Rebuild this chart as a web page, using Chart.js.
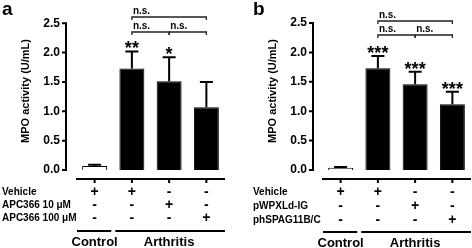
<!DOCTYPE html>
<html>
<head>
<meta charset="utf-8">
<script src="https://cdn.jsdelivr.net/npm/chart.js@4"></script>
<style>
  html, body { margin: 0; padding: 0; background: #fff; }
  #wrap { position: relative; width: 472px; height: 248px; }
  .panel { position: absolute; top: 0; width: 236px; height: 248px; }
</style>
</head>
<body>
<div id="wrap">
  <div class="panel" style="left:0"><canvas id="chartA" width="236" height="248"></canvas></div>
  <div class="panel" style="left:236px"><canvas id="chartB" width="236" height="248"></canvas></div>
</div>
<script>
// data
const yTicks = [0, 0.5, 1.0, 1.5, 2.0, 2.5]
const yTitle = 'MPO activity (U/mL)'
const groupLabels = ['Control', 'Arthritis']

const categoriesA = ['Control', 'Arthritis', 'Arthritis + APC366 10 μM', 'Arthritis + APC366 100 μM']
const valuesA = [0.07, 1.73, 1.51, 1.07]
const errorsA = [0.02, 0.29, 0.41, 0.43]
const starsA = ['', '**', '*', '']
const rowLabelsA = ['Vehicle', 'APC366 10 μM', 'APC366 100 μM']

const categoriesB = ['Control', 'Arthritis', 'Arthritis + pWPXLd-IG', 'Arthritis + phSPAG11B/C']
const valuesB = [0.04, 1.73, 1.46, 1.12]
const errorsB = [0.01, 0.21, 0.21, 0.21]
const starsB = ['', '***', '***', '***']
const rowLabelsB = ['Vehicle', 'pWPXLd-IG', 'phSPAG11B/C']

// + / - under each bar, one row per treatment line
const signs = [
  ['+', '+', '-', '-'],
  ['-', '-', '+', '-'],
  ['-', '-', '-', '+']
]
// comparisons between bars (index from, index to, label)
const brackets = [[1, 3, 'n.s.'], [1, 2, 'n.s.'], [2, 3, 'n.s.']]

const FONT = "'Liberation Sans', Arial, sans-serif"

const decor = {
  id: 'decor',
  afterDatasetsDraw(chart, args, o) {
    const ctx = chart.ctx
    const xs = chart.scales.x
    const ys = chart.scales.y
    const area = chart.chartArea
    const cx = i => xs.getPixelForValue(i)
    ctx.save()
    ctx.strokeStyle = '#000'
    ctx.fillStyle = '#000'
    ctx.lineCap = 'butt'

    // y axis line + ticks
    ctx.lineWidth = 2
    ctx.beginPath()
    ctx.moveTo(o.axisX, ys.getPixelForValue(yTicks[yTicks.length - 1]) - 1)
    ctx.lineTo(o.axisX, ys.getPixelForValue(0) + 1)
    yTicks.forEach(t => {
      let py = ys.getPixelForValue(t)
      ctx.moveTo(o.axisX, py)
      ctx.lineTo(o.axisX - 4, py)
    })
    ctx.stroke()

    // x axis line under bars
    let lineY = area.bottom + 9
    ctx.beginPath()
    ctx.moveTo(area.left, lineY)
    ctx.lineTo(area.right, lineY)
    o.values.forEach((v, i) => {
      ctx.moveTo(cx(i), lineY)
      ctx.lineTo(cx(i), lineY + 4)
    })
    ctx.stroke()

    // error bars
    ctx.lineWidth = 2
    o.values.forEach((v, i) => {
      let top = ys.getPixelForValue(v + o.errors[i])
      let base = ys.getPixelForValue(v)
      ctx.beginPath()
      ctx.moveTo(cx(i), base)
      ctx.lineTo(cx(i), top)
      ctx.moveTo(cx(i) - 6.5, top)
      ctx.lineTo(cx(i) + 6.5, top)
      ctx.stroke()
    })

    // significance stars
    ctx.font = 'bold 18px ' + FONT
    ctx.textAlign = 'center'
    ctx.textBaseline = 'alphabetic'
    o.stars.forEach((s, i) => {
      if (!s) return
      let top = ys.getPixelForValue(o.values[i] + o.errors[i])
      ctx.fillText(s, cx(i), top + 3)
    })

    // n.s. brackets
    ctx.lineWidth = 1.3
    ctx.strokeStyle = '#222'
    ctx.font = 'bold 10px ' + FONT
    ctx.textAlign = 'left'
    brackets.forEach((b, k) => {
      let by = k === 0 ? o.bracketY[0] : o.bracketY[1]
      let x1 = cx(b[0]), x2 = cx(b[1])
      ctx.beginPath()
      ctx.moveTo(x1, by + 3)
      ctx.lineTo(x1, by)
      ctx.lineTo(x2, by)
      ctx.lineTo(x2, by + 3)
      ctx.stroke()
      ctx.fillText(b[2], x1 + 1, by - 3)
    })

    // y axis title
    ctx.save()
    ctx.translate(o.titleX, 91)
    ctx.rotate(-Math.PI / 2)
    ctx.font = 'bold 11px ' + FONT
    ctx.textAlign = 'center'
    ctx.textBaseline = 'middle'
    ctx.fillText(yTitle, 0, 0)
    ctx.restore()

    // panel letter
    ctx.font = 'bold 19px ' + FONT
    ctx.textAlign = 'left'
    ctx.textBaseline = 'alphabetic'
    ctx.fillText(o.letter, o.letterX, 15)

    // treatment table
    ctx.textBaseline = 'middle'
    o.rowLabels.forEach((lab, r) => {
      ctx.font = 'bold 10px ' + FONT
      ctx.textAlign = 'left'
      ctx.fillText(lab, o.rowX, o.rowY[r])
      ctx.textAlign = 'center'
      ctx.font = 'bold 14px ' + FONT
      signs[r].forEach((s, i) => {
        ctx.fillText(s, cx(i), o.rowY[r])
      })
    })

    // group lines and labels
    let step = cx(1) - cx(0)
    ctx.lineWidth = 2
    ctx.strokeStyle = '#000'
    ctx.beginPath()
    ctx.moveTo(cx(0) - step / 2 + 1, o.groupY)
    ctx.lineTo(cx(0) + step / 2 - 2, o.groupY)
    ctx.moveTo(cx(1) - step / 2 + 2, o.groupY)
    ctx.lineTo(area.right, o.groupY)
    ctx.stroke()
    ctx.font = 'bold 13px ' + FONT
    ctx.textAlign = 'center'
    ctx.fillText(groupLabels[0], cx(0), o.groupY + 11)
    ctx.fillText(groupLabels[1], cx(2), o.groupY + 11)

    ctx.restore()
  }
}

function makeChart(id, cats, values, errors, stars, rowLabels, o) {
  return new Chart(document.getElementById(id).getContext('2d'), {
    type: 'bar',
    data: {
      labels: cats,
      datasets: [{
        data: values,
        backgroundColor: values.map((v, i) => i === 0 ? '#fff' : '#000'),
        borderColor: '#000',
        borderWidth: 1,
        barPercentage: 0.67,
        categoryPercentage: 1
      }]
    },
    options: {
      responsive: false,
      animation: false,
      devicePixelRatio: 1,
      layout: { padding: { top: 23, bottom: 78, left: 0, right: o.padRight } },
      plugins: {
        legend: { display: false },
        tooltip: { enabled: false },
        decor: Object.assign({ values, errors, stars, rowLabels }, o)
      },
      scales: {
        x: { display: false },
        y: {
          min: 0,
          max: 2.5,
          afterFit: s => { s.width = o.scaleWidth },
          afterBuildTicks: s => { s.ticks = yTicks.map(v => ({ value: v })) },
          grid: { display: false, drawTicks: false },
          border: { display: false },
          ticks: {
            padding: o.tickPad,
            color: '#000',
            font: { family: FONT, size: 12, weight: 'bold' },
            callback: v => v.toFixed(1)
          }
        }
      }
    },
    plugins: [decor]
  })
}

makeChart('chartA', categoriesA, valuesA, errorsA, starsA, rowLabelsA, {
  letter: 'a', letterX: 2, axisX: 66, scaleWidth: 76, padRight: 11, tickPad: 16,
  titleX: 26, rowX: 2, rowY: [192, 205, 218], groupY: 231, bracketY: [17, 32]
})
makeChart('chartB', categoriesB, valuesB, errorsB, starsB, rowLabelsB, {
  letter: 'b', letterX: 17, axisX: 77, scaleWidth: 86, padRight: 1, tickPad: 15,
  titleX: 37, rowX: 17, rowY: [192, 206, 220], groupY: 232, bracketY: [21, 35]
})
</script>
</body>
</html>
